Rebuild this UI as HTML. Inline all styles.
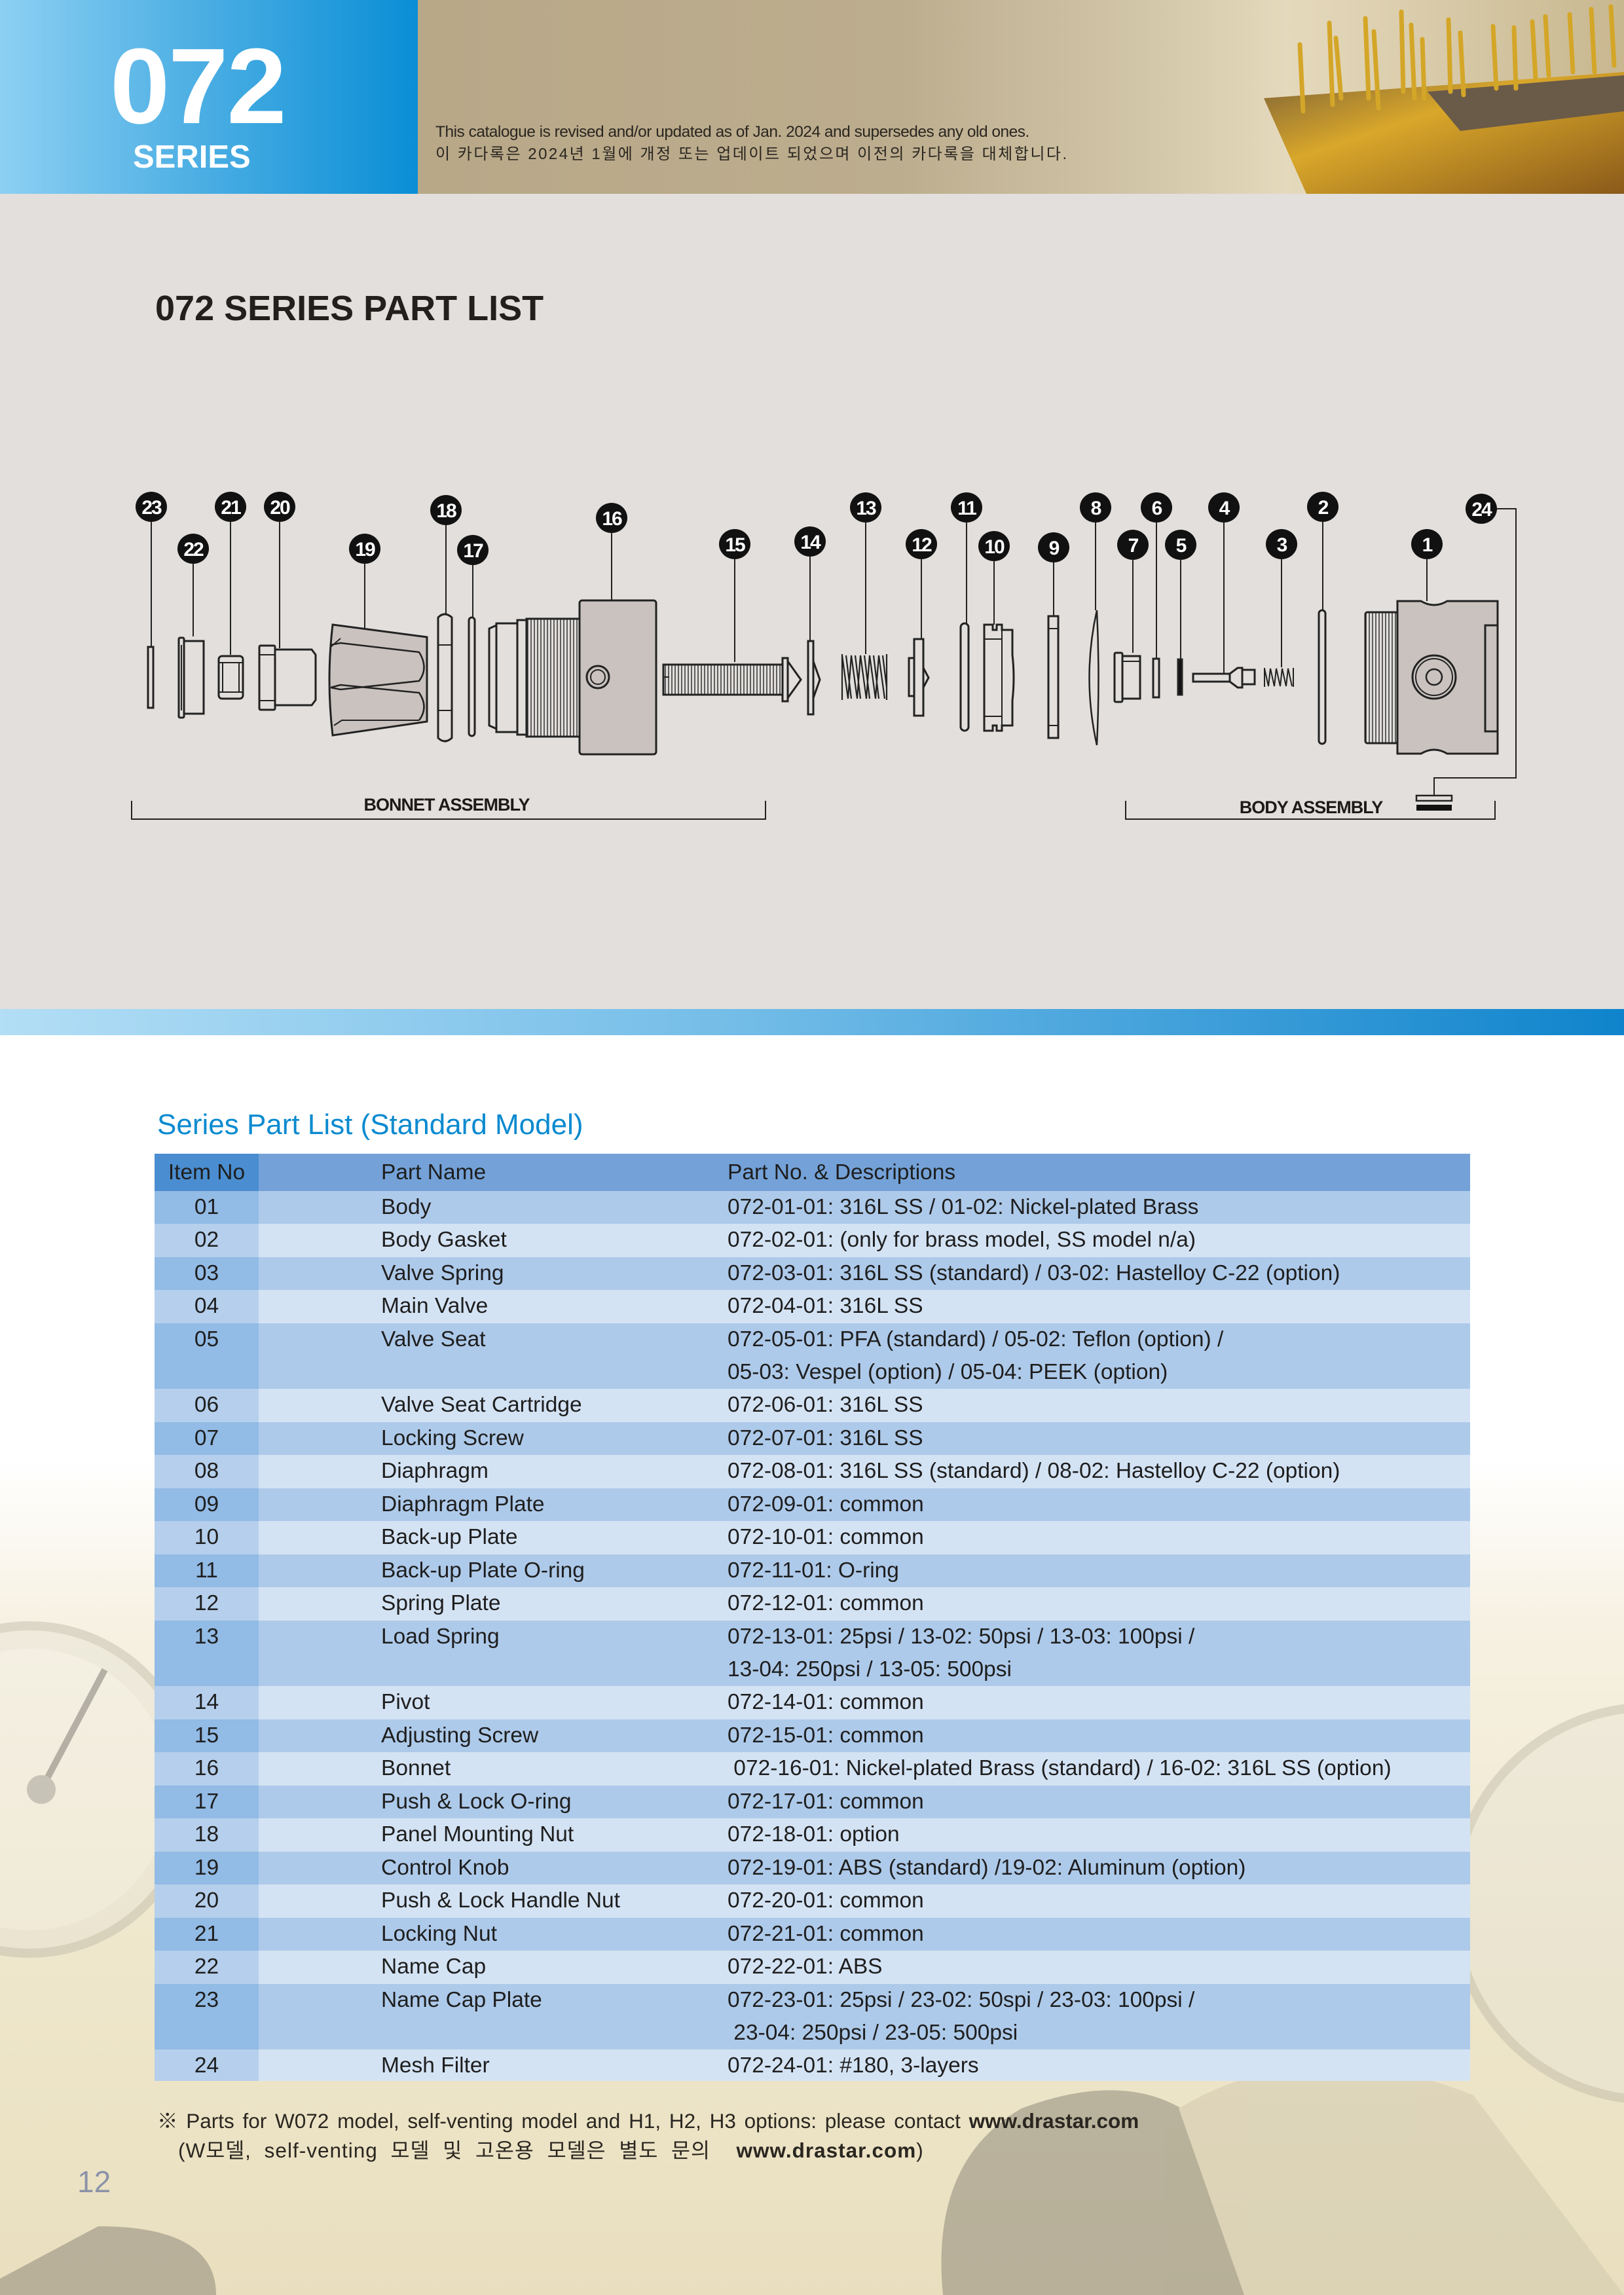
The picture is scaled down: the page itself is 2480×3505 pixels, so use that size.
<!DOCTYPE html>
<html style="overflow:hidden;height:3505px"><head><meta charset="utf-8">
<style>
html,body{margin:0;padding:0}
body{width:2480px;height:3505px;position:relative;overflow:hidden;background:#fff;font-family:"Liberation Sans","Noto Sans CJK KR",sans-serif}
.abs{position:absolute}
.row{position:absolute;left:236px;width:2009px;font-size:33.5px;color:#1e1e1e;overflow:hidden}
.row div{position:absolute;top:0;line-height:50px;white-space:nowrap}
.c1{left:0;width:159px;text-align:center}
.c2{left:346px}
.c3{left:875px}
</style></head><body>
<div class="abs" style="left:0;top:1581px;width:2480px;height:1924px;background:linear-gradient(180deg,#ffffff 0px,#ffffff 650px,#f6f1e2 900px,#efe7cc 1400px,#e9dfbf 1924px)"></div>
<svg class="abs" style="left:0;top:2400px" width="2480" height="1105">
 <g opacity="0.4">
  <circle cx="45" cy="333" r="250" fill="#e6e2d6" stroke="#b8b2a2" stroke-width="14"/>
  <circle cx="45" cy="333" r="215" fill="#f2efe6"/>
  <line x1="63" y1="333" x2="160" y2="150" stroke="#555" stroke-width="10"/>
  <circle cx="63" cy="333" r="22" fill="#888"/>
  <circle cx="2520" cy="507" r="300" fill="#e6e2d6" stroke="#b8b2a2" stroke-width="14"/>
  <path d="M0 1080 L150 1000 Q330 1000 330 1105 L0 1105 Z" fill="#6e6a5e"/>
  <path d="M1440 1105 Q1420 900 1560 820 Q1720 760 1820 830 L1900 1105 Z" fill="#6e6a5e"/>
  <path d="M1800 820 Q2000 700 2250 800 L2480 1105 L1900 1105 Z" fill="#c9c0a8"/>
 </g>
</svg>

<div class="abs" style="left:0;top:0;width:638px;height:296px;background:linear-gradient(90deg,#8dd0f3 0%,#4fb0e4 45%,#0a8ed6 100%)"></div>
<div class="abs" style="left:638px;top:0;width:1842px;height:296px;background:linear-gradient(90deg,#b8a888 0%,#bcad8e 40%,#d2c6a8 60%,#e5d9bd 72%,#ddd0b0 80%,#c8b78f 100%)"></div>
<svg class="abs" style="left:1900px;top:0" width="580" height="296">
 <defs><linearGradient id="chip" x1="0" y1="0" x2="1" y2="1"><stop offset="0" stop-color="#7a6038"/><stop offset="0.4" stop-color="#d9a72a"/><stop offset="1" stop-color="#8a5a1a"/></linearGradient></defs>
 <polygon points="30,150 580,110 580,296 95,296" fill="url(#chip)"/>
 <polygon points="280,140 580,115 580,170 330,200" fill="#6a5a48"/>
 <g stroke="#d4a628" stroke-width="7" stroke-linecap="round">
  <line x1="85" y1="68" x2="90" y2="170"/><line x1="130" y1="35" x2="135" y2="160"/><line x1="140" y1="58" x2="148" y2="150"/>
  <line x1="185" y1="28" x2="190" y2="150"/><line x1="198" y1="48" x2="205" y2="165"/><line x1="240" y1="18" x2="243" y2="140"/>
  <line x1="255" y1="38" x2="260" y2="150"/><line x1="272" y1="60" x2="275" y2="150"/><line x1="312" y1="30" x2="315" y2="140"/>
  <line x1="330" y1="50" x2="335" y2="145"/><line x1="380" y1="40" x2="385" y2="135"/><line x1="412" y1="42" x2="415" y2="135"/>
  <line x1="440" y1="33" x2="445" y2="120"/><line x1="460" y1="25" x2="465" y2="115"/><line x1="497" y1="22" x2="502" y2="110"/>
  <line x1="530" y1="14" x2="535" y2="110"/><line x1="560" y1="10" x2="565" y2="100"/>
 </g>
</svg>
<div class="abs" style="left:168px;top:42px;font-size:164px;font-weight:bold;color:#fff;line-height:180px;letter-spacing:-2px">072</div>
<div class="abs" style="left:203px;top:212px;font-size:49px;font-weight:bold;color:#fff;line-height:56px">SERIES</div>
<div class="abs" style="left:665px;top:187px;font-size:24.5px;color:#2a2620;line-height:30px;letter-spacing:-0.5px;white-space:nowrap">This catalogue is revised and/or updated as of Jan. 2024 and supersedes any old ones.</div>
<div class="abs" style="left:665px;top:221px;font-size:24px;color:#2a2620;line-height:30px;letter-spacing:2.5px;white-space:nowrap">이 카다록은 2024년 1월에 개정 또는 업데이트 되었으며 이전의 카다록을 대체합니다.</div>

<div class="abs" style="left:0;top:296px;width:2480px;height:1245px;background:#e2dfdc"></div>
<div class="abs" style="left:0;top:1541px;width:2480px;height:40px;background:linear-gradient(90deg,#b3def5 0%,#74bde8 45%,#0f84cc 100%)"></div>
<div class="abs" style="left:237px;top:440px;font-size:54px;font-weight:bold;color:#231f1c;line-height:62px">072 SERIES PART LIST</div>

<svg class="abs" style="left:0;top:0" width="2480" height="1541">
 <defs>
  <pattern id="thr" width="5" height="10" patternUnits="userSpaceOnUse"><rect width="5" height="10" fill="#e2dfdc"/><line x1="1" y1="0" x2="1" y2="10" stroke="#333" stroke-width="1.5"/></pattern>
 </defs>
 <g fill="none" stroke="#222" stroke-width="3">
  <line x1="231" y1="797" x2="231" y2="988" stroke-width="2"/>
  <line x1="295" y1="861" x2="295" y2="972" stroke-width="2"/>
  <line x1="352" y1="797" x2="352" y2="1000" stroke-width="2"/>
  <line x1="427" y1="797" x2="427" y2="990" stroke-width="2"/>
  <line x1="557" y1="861" x2="557" y2="963" stroke-width="2"/>
  <line x1="681" y1="802" x2="681" y2="938" stroke-width="2"/>
  <line x1="722" y1="863" x2="722" y2="943" stroke-width="2"/>
  <line x1="934" y1="814" x2="934" y2="917" stroke-width="2"/>
  <line x1="1122" y1="854" x2="1122" y2="1011" stroke-width="2"/>
  <line x1="1237" y1="850" x2="1237" y2="979" stroke-width="2"/>
  <line x1="1322" y1="798" x2="1322" y2="999" stroke-width="2"/>
  <line x1="1407" y1="854" x2="1407" y2="976" stroke-width="2"/>
  <line x1="1476" y1="798" x2="1476" y2="952" stroke-width="2"/>
  <line x1="1518" y1="857" x2="1518" y2="954" stroke-width="2"/>
  <line x1="1609" y1="859" x2="1609" y2="941" stroke-width="2"/>
  <line x1="1673" y1="798" x2="1673" y2="932" stroke-width="2"/>
  <line x1="1730" y1="855" x2="1730" y2="997" stroke-width="2"/>
  <line x1="1766" y1="798" x2="1766" y2="1006" stroke-width="2"/>
  <line x1="1803" y1="855" x2="1803" y2="1007" stroke-width="2"/>
  <line x1="1869" y1="798" x2="1869" y2="1029" stroke-width="2"/>
  <line x1="1957" y1="854" x2="1957" y2="1019" stroke-width="2"/>
  <line x1="2020" y1="797" x2="2020" y2="932" stroke-width="2"/>
  <line x1="2179" y1="854" x2="2179" y2="918" stroke-width="2"/>
  <polyline points="2285,777 2315,777 2315,1188 2190,1188 2190,1215" stroke-width="2"/>

  <rect x="226" y="988" width="8" height="93"/>
  <rect x="273" y="974" width="8" height="122" rx="2"/>
  <rect x="281" y="979" width="30" height="111"/>
  <line x1="277" y1="985" x2="277" y2="1085" stroke-width="2"/>
  <rect x="334" y="1002" width="37" height="65" rx="5"/>
  <line x1="334" y1="1012" x2="371" y2="1012" stroke-width="2"/><line x1="334" y1="1057" x2="371" y2="1057" stroke-width="2"/>
  <line x1="340" y1="1012" x2="340" y2="1057" stroke-width="2"/><line x1="365" y1="1012" x2="365" y2="1057" stroke-width="2"/>
  <rect x="396" y="986" width="24" height="98" rx="2"/>
  <line x1="396" y1="1000" x2="420" y2="1000" stroke-width="2"/><line x1="396" y1="1070" x2="420" y2="1070" stroke-width="2"/>
  <path d="M420 992 L476 992 L482 1000 L482 1069 L476 1077 L420 1077"/>
  <path d="M508 954 L652 973 L652 1102 L508 1123 Q498 1038 508 954 Z" fill="#c9c2bf"/>
  <path d="M505 985 L520 982 L640 996 Q655 1020 640 1040 L520 1053 L505 1050" stroke-width="2.5"/>
  <path d="M505 1050 L520 1046 L640 1058 Q655 1080 640 1100" stroke-width="2.5"/>
  <path d="M505 988 L520 975" stroke-width="2"/>
  <path d="M510 1108 L522 1100 L640 1100" stroke-width="2"/>
  <path d="M669 943 Q679 933 690 943 L690 1127 Q679 1137 669 1127 Z"/>
  <line x1="669" y1="985" x2="690" y2="985" stroke-width="2"/><line x1="669" y1="1085" x2="690" y2="1085" stroke-width="2"/>
  <rect x="716" y="943" width="9" height="181" rx="4.5"/>
  <path d="M747 960 L758 955 L758 1113 L747 1108 Z"/>
  <rect x="758" y="952" width="32" height="166"/>
  <rect x="790" y="947" width="14" height="175"/>
  <rect x="804" y="945" width="81" height="180" fill="url(#thr)"/>
  <rect x="885" y="917" width="117" height="235" rx="4" fill="#c9c2bf"/>
  <circle cx="913" cy="1034" r="17"/><circle cx="913" cy="1034" r="11" stroke-width="2"/>
  <rect x="1013" y="1015" width="182" height="46" fill="url(#thr)"/>
  <line x1="1013" y1="1034" x2="1022" y2="1034" stroke-width="2"/>
  <rect x="1195" y="1005" width="8" height="66"/>
  <path d="M1203 1010 L1223 1038 L1203 1066"/>
  <rect x="1234" y="979" width="8" height="112"/>
  <path d="M1242 1010 L1252 1038 L1242 1066"/>
  <path d="M1286 999 L1286 1069 M1354 999 L1354 1069 M1286 1001 L1295 1067 L1300 1001 L1309 1067 L1314 1001 L1323 1067 L1328 1001 L1337 1067 L1342 1001 L1351 1067 M1292 1001 L1300 1067 M1306 1001 L1314 1067 M1320 1001 L1328 1067 M1334 1001 L1342 1067 M1348 1001 L1354 1050" stroke-width="2.2"/>
  <rect x="1396" y="976" width="14" height="117"/>
  <rect x="1388" y="1005" width="8" height="58"/>
  <path d="M1410 1020 L1418 1035 L1410 1050"/>
  <rect x="1467" y="952" width="12" height="164" rx="6"/>
  <path d="M1503 954 L1516 954 L1516 962 L1522 962 L1522 954 L1530 954 L1530 962 L1546 962 L1546 1000 Q1550 1035 1546 1070 L1546 1108 L1530 1108 L1530 1116 L1522 1116 L1522 1108 L1516 1108 L1516 1116 L1503 1116 Z"/>
  <line x1="1503" y1="976" x2="1530" y2="976" stroke-width="2"/><line x1="1503" y1="1094" x2="1530" y2="1094" stroke-width="2"/>
  <line x1="1530" y1="962" x2="1530" y2="1108" stroke-width="2"/>
  <rect x="1601" y="941" width="15" height="186"/>
  <line x1="1601" y1="960" x2="1616" y2="960" stroke-width="2"/><line x1="1601" y1="1108" x2="1616" y2="1108" stroke-width="2"/>
  <path d="M1675 932 Q1652 1035 1675 1138 Q1680 1035 1675 932 Z" stroke-width="2.5"/>
  <rect x="1702" y="997" width="12" height="75" rx="2"/>
  <rect x="1714" y="1002" width="27" height="65"/>
  <line x1="1714" y1="1010" x2="1741" y2="1010" stroke-width="2"/>
  <rect x="1761" y="1006" width="9" height="59"/>
  <rect x="1799" y="1007" width="6" height="54" fill="#111"/>
  <rect x="1822" y="1029" width="56" height="12"/>
  <path d="M1878 1029 L1890 1020 L1897 1020 L1897 1050 L1890 1050 L1878 1041"/>
  <rect x="1897" y="1023" width="19" height="22"/>
  <path d="M1931 1020 L1931 1049 M1975 1020 L1975 1049 M1931 1021 L1937 1048 L1940 1021 L1946 1048 L1949 1021 L1955 1048 L1958 1021 L1964 1048 L1967 1021 L1973 1048" stroke-width="2"/>
  <rect x="2014" y="932" width="10" height="204" rx="5"/>
  <rect x="2085" y="935" width="49" height="200" rx="3" fill="url(#thr)"/>
  <path d="M2134 918 L2170 918 Q2190 930 2210 918 L2287 918 L2287 1151 L2210 1151 Q2190 1139 2170 1151 L2134 1151 Z" fill="#c9c2bf"/>
  <rect x="2268" y="955" width="19" height="162"/>
  <circle cx="2190" cy="1034" r="33"/><circle cx="2190" cy="1034" r="28" stroke-width="2"/><circle cx="2190" cy="1034" r="12" stroke-width="2.5"/>
  <rect x="2163" y="1215" width="54" height="8" stroke-width="2.5"/>
  <rect x="2163" y="1229" width="54" height="9" fill="#111" stroke="none"/>
  <polyline points="201,1223 201,1251 1169,1251 1169,1223" stroke-width="2"/>
  <polyline points="1719,1223 1719,1251 2283,1251 2283,1223" stroke-width="2"/>
 </g>
 <g font-family="Liberation Sans, sans-serif" font-weight="bold" fill="#1e1a18">
  <text x="682" y="1238" font-size="27" text-anchor="middle" letter-spacing="-1">BONNET ASSEMBLY</text>
  <text x="2002" y="1242" font-size="27" text-anchor="middle" letter-spacing="-1">BODY ASSEMBLY</text>
 </g>
 <g fill="#111">
  <ellipse cx="231" cy="774" rx="24" ry="23"/><ellipse cx="352" cy="774" rx="24" ry="23"/><ellipse cx="427" cy="774" rx="24" ry="23"/>
  <ellipse cx="295" cy="838" rx="24" ry="23"/><ellipse cx="557" cy="838" rx="24" ry="23"/><ellipse cx="681" cy="779" rx="24" ry="23"/>
  <ellipse cx="722" cy="840" rx="24" ry="23"/><ellipse cx="934" cy="791" rx="24" ry="23"/><ellipse cx="1122" cy="831" rx="24" ry="23"/>
  <ellipse cx="1237" cy="827" rx="24" ry="23"/><ellipse cx="1322" cy="775" rx="24" ry="23"/><ellipse cx="1407" cy="831" rx="24" ry="23"/>
  <ellipse cx="1476" cy="775" rx="24" ry="23"/><ellipse cx="1518" cy="834" rx="24" ry="23"/><ellipse cx="1609" cy="836" rx="24" ry="23"/>
  <ellipse cx="1673" cy="775" rx="24" ry="23"/><ellipse cx="1730" cy="832" rx="24" ry="23"/><ellipse cx="1766" cy="775" rx="24" ry="23"/>
  <ellipse cx="1803" cy="832" rx="24" ry="23"/><ellipse cx="1869" cy="775" rx="24" ry="23"/><ellipse cx="1957" cy="831" rx="24" ry="23"/>
  <ellipse cx="2020" cy="774" rx="24" ry="23"/><ellipse cx="2179" cy="831" rx="24" ry="23"/><ellipse cx="2262" cy="777" rx="24" ry="23"/>
 </g>
 <g font-family="Liberation Sans, sans-serif" font-weight="bold" fill="#fff" font-size="30" text-anchor="middle" letter-spacing="-2">
  <text x="231" y="785">23</text><text x="352" y="785">21</text><text x="427" y="785">20</text>
  <text x="295" y="849">22</text><text x="557" y="849">19</text><text x="681" y="790">18</text>
  <text x="722" y="851">17</text><text x="934" y="802">16</text><text x="1122" y="842">15</text>
  <text x="1237" y="838">14</text><text x="1322" y="786">13</text><text x="1407" y="842">12</text>
  <text x="1476" y="786">11</text><text x="1518" y="845">10</text><text x="1609" y="847">9</text>
  <text x="1673" y="786">8</text><text x="1730" y="843">7</text><text x="1766" y="786">6</text>
  <text x="1803" y="843">5</text><text x="1869" y="786">4</text><text x="1957" y="842">3</text>
  <text x="2020" y="785">2</text><text x="2179" y="842">1</text><text x="2262" y="788">24</text>
 </g>
</svg>

<div class="abs" style="left:240px;top:1690px;font-size:44px;color:#0a8ad0;line-height:56px">Series Part List (Standard Model)</div>
<div class="abs" style="left:236px;top:1762px;width:2009px;height:57px;background:#74a2d8"></div>
<div class="abs" style="left:236px;top:1762px;width:159px;height:57px;background:#4a8dd0"></div>
<div class="row" style="top:1766px;height:50px"><div class="c1">Item No</div><div class="c2">Part Name</div><div class="c3">Part No. &amp; Descriptions</div></div>

<div class="row" style="top:1819px;height:50px;background:#aecaea"><div class="c1" style="background:#92bbe5;height:50px">01</div><div class="c2">Body</div><div class="c3">072-01-01: 316L SS / 01-02: Nickel-plated Brass</div></div>
<div class="row" style="top:1869px;height:51px;background:#d4e3f4"><div class="c1" style="background:#b5cfec;height:51px">02</div><div class="c2">Body Gasket</div><div class="c3">072-02-01: (only for brass model, SS model n/a)</div></div>
<div class="row" style="top:1920px;height:50px;background:#aecaea"><div class="c1" style="background:#92bbe5;height:50px">03</div><div class="c2">Valve Spring</div><div class="c3">072-03-01: 316L SS (standard) / 03-02: Hastelloy C-22 (option)</div></div>
<div class="row" style="top:1970px;height:51px;background:#d4e3f4"><div class="c1" style="background:#b5cfec;height:51px">04</div><div class="c2">Main Valve</div><div class="c3">072-04-01: 316L SS</div></div>
<div class="row" style="top:2021px;height:100px;background:#aecaea"><div class="c1" style="background:#92bbe5;height:100px">05</div><div class="c2">Valve Seat</div><div class="c3">072-05-01: PFA (standard) / 05-02: Teflon (option) /<br>05-03: Vespel (option) / 05-04: PEEK (option)</div></div>
<div class="row" style="top:2121px;height:51px;background:#d4e3f4"><div class="c1" style="background:#b5cfec;height:51px">06</div><div class="c2">Valve Seat Cartridge</div><div class="c3">072-06-01: 316L SS</div></div>
<div class="row" style="top:2172px;height:50px;background:#aecaea"><div class="c1" style="background:#92bbe5;height:50px">07</div><div class="c2">Locking Screw</div><div class="c3">072-07-01: 316L SS</div></div>
<div class="row" style="top:2222px;height:51px;background:#d4e3f4"><div class="c1" style="background:#b5cfec;height:51px">08</div><div class="c2">Diaphragm</div><div class="c3">072-08-01: 316L SS (standard) / 08-02: Hastelloy C-22 (option)</div></div>
<div class="row" style="top:2273px;height:50px;background:#aecaea"><div class="c1" style="background:#92bbe5;height:50px">09</div><div class="c2">Diaphragm Plate</div><div class="c3">072-09-01: common</div></div>
<div class="row" style="top:2323px;height:51px;background:#d4e3f4"><div class="c1" style="background:#b5cfec;height:51px">10</div><div class="c2">Back-up Plate</div><div class="c3">072-10-01: common</div></div>
<div class="row" style="top:2374px;height:50px;background:#aecaea"><div class="c1" style="background:#92bbe5;height:50px">11</div><div class="c2">Back-up Plate O-ring</div><div class="c3">072-11-01: O-ring</div></div>
<div class="row" style="top:2424px;height:51px;background:#d4e3f4"><div class="c1" style="background:#b5cfec;height:51px">12</div><div class="c2">Spring Plate</div><div class="c3">072-12-01: common</div></div>
<div class="row" style="top:2475px;height:100px;background:#aecaea"><div class="c1" style="background:#92bbe5;height:100px">13</div><div class="c2">Load Spring</div><div class="c3">072-13-01: 25psi / 13-02: 50psi / 13-03: 100psi /<br>13-04: 250psi / 13-05: 500psi</div></div>
<div class="row" style="top:2575px;height:51px;background:#d4e3f4"><div class="c1" style="background:#b5cfec;height:51px">14</div><div class="c2">Pivot</div><div class="c3">072-14-01: common</div></div>
<div class="row" style="top:2626px;height:50px;background:#aecaea"><div class="c1" style="background:#92bbe5;height:50px">15</div><div class="c2">Adjusting Screw</div><div class="c3">072-15-01: common</div></div>
<div class="row" style="top:2676px;height:51px;background:#d4e3f4"><div class="c1" style="background:#b5cfec;height:51px">16</div><div class="c2">Bonnet</div><div class="c3">&nbsp;072-16-01: Nickel-plated Brass (standard) / 16-02: 316L SS (option)</div></div>
<div class="row" style="top:2727px;height:50px;background:#aecaea"><div class="c1" style="background:#92bbe5;height:50px">17</div><div class="c2">Push &amp; Lock O-ring</div><div class="c3">072-17-01: common</div></div>
<div class="row" style="top:2777px;height:51px;background:#d4e3f4"><div class="c1" style="background:#b5cfec;height:51px">18</div><div class="c2">Panel Mounting Nut</div><div class="c3">072-18-01: option</div></div>
<div class="row" style="top:2828px;height:50px;background:#aecaea"><div class="c1" style="background:#92bbe5;height:50px">19</div><div class="c2">Control Knob</div><div class="c3">072-19-01: ABS (standard) /19-02: Aluminum (option)</div></div>
<div class="row" style="top:2878px;height:51px;background:#d4e3f4"><div class="c1" style="background:#b5cfec;height:51px">20</div><div class="c2">Push &amp; Lock Handle Nut</div><div class="c3">072-20-01: common</div></div>
<div class="row" style="top:2929px;height:50px;background:#aecaea"><div class="c1" style="background:#92bbe5;height:50px">21</div><div class="c2">Locking Nut</div><div class="c3">072-21-01: common</div></div>
<div class="row" style="top:2979px;height:51px;background:#d4e3f4"><div class="c1" style="background:#b5cfec;height:51px">22</div><div class="c2">Name Cap</div><div class="c3">072-22-01: ABS</div></div>
<div class="row" style="top:3030px;height:100px;background:#aecaea"><div class="c1" style="background:#92bbe5;height:100px">23</div><div class="c2">Name Cap Plate</div><div class="c3">072-23-01: 25psi / 23-02: 50spi / 23-03: 100psi /<br>&nbsp;23-04: 250psi / 23-05: 500psi</div></div>
<div class="row" style="top:3130px;height:48px;background:#d4e3f4"><div class="c1" style="background:#b5cfec;height:48px">24</div><div class="c2">Mesh Filter</div><div class="c3">072-24-01: #180, 3-layers</div></div>

<div class="abs" style="left:240px;top:3220px;font-size:31.5px;color:#2a2620;line-height:38px;white-space:nowrap;word-spacing:4px">※ Parts for W072 model, self-venting model and H1, H2, H3 options: please contact <b>www.drastar.com</b></div>
<div class="abs" style="left:272px;top:3265px;font-size:31.5px;color:#2a2620;line-height:38px;white-space:nowrap;letter-spacing:1px;word-spacing:10px">(W모델, self-venting 모델 및 고온용 모델은 별도 문의 &nbsp;<b>www.drastar.com</b>)</div>
<div class="abs" style="left:118px;top:3306px;font-size:46px;color:#8c93a8;line-height:52px">12</div>
</body></html>
